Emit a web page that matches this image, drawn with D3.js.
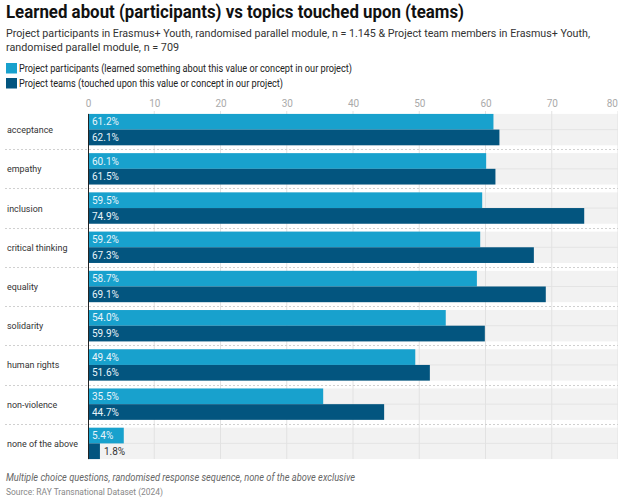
<!DOCTYPE html>
<html>
<head>
<meta charset="utf-8">
<script src="https://cdn.jsdelivr.net/npm/d3@7"></script>
<style>
  body { margin: 0; background: #fff; font-family: Roboto, "Noto Sans", sans-serif; }
  svg text { font-family: Roboto, "Noto Sans", sans-serif; }
</style>
</head>
<body>
<svg id="chart" width="618" height="501"></svg>
<script>
const categories = ["acceptance", "empathy", "inclusion", "critical thinking", "equality",
  "solidarity", "human rights", "non-violence", "none of the above"];
const participants = [61.2, 60.1, 59.5, 59.2, 58.7, 54.0, 49.4, 35.5, 5.4];
const teams = [62.1, 61.5, 74.9, 67.3, 69.1, 59.9, 51.6, 44.7, 1.8];
const seriesNames = [
  "Project participants (learned something about this value or concept in our project)",
  "Project teams (touched upon this value or concept in our project)"
];
const xTicks = [0, 10, 20, 30, 40, 50, 60, 70, 80];
const colors = ["#18a1cd", "#03557f"];

const svg = d3.select("#chart");

// Squeeze a text to a given width (narrow typeface look)
function fit(sel, width) {
  sel.attr("textLength", width).attr("lengthAdjust", "spacingAndGlyphs");
  return sel;
}

// Title, subtitle
fit(svg.append("text").attr("x", 6).attr("y", 18)
  .attr("font-size", 18.5).attr("font-weight", 700).attr("fill", "#111")
  .text("Learned about (participants) vs topics touched upon (teams)"), 458);
fit(svg.append("text").attr("x", 6).attr("y", 37).attr("font-size", 10.9).attr("fill", "#333")
  .text("Project participants in Erasmus+ Youth, randomised parallel module, n = 1.145 & Project team members in Erasmus+ Youth,"), 584);
fit(svg.append("text").attr("x", 6).attr("y", 51).attr("font-size", 10.9).attr("fill", "#333")
  .text("randomised parallel module, n = 709"), 173);

// Legend
const legendWidths = [333, 264];
seriesNames.forEach((name, i) => {
  const g = svg.append("g").attr("transform", `translate(6,${63 + i * 15})`);
  g.append("rect").attr("width", 11).attr("height", 10.5).attr("fill", colors[i]);
  fit(g.append("text").attr("x", 13).attr("y", 9).attr("font-size", 10).attr("fill", "#222").text(name),
    legendWidths[i]);
});

// Scales
const x = d3.scaleLinear().domain([0, 80]).range([88, 618]);
const y = d3.scaleBand().domain(categories).range([110, 463]).paddingInner(0.2).paddingOuter(0.1);
const y2 = d3.scaleBand().domain([0, 1]).range([0, y.bandwidth()]);

// Group background bands
svg.append("g").selectAll("rect").data(categories).join("rect")
  .attr("x", x(0)).attr("y", d => y(d)).attr("width", x(80) - x(0)).attr("height", y.bandwidth())
  .attr("fill", "#f2f2f2");
svg.append("g").selectAll("line").data(categories).join("line")
  .attr("x1", x(0)).attr("x2", x(80))
  .attr("y1", d => y(d) + y.bandwidth() / 2).attr("y2", d => y(d) + y.bandwidth() / 2)
  .attr("stroke", "#e4e4e4").attr("stroke-width", 1);

// Vertical gridlines
svg.append("g").selectAll("line").data(xTicks.slice(1)).join("line")
  .attr("x1", d => x(d)).attr("x2", d => x(d)).attr("y1", 111).attr("y2", 459)
  .attr("stroke", "#e2e2e2").attr("stroke-width", 1);

// Dashed separators between groups
const step = y.step();
svg.append("g").selectAll("line").data(categories.slice(1)).join("line")
  .attr("x1", 5).attr("x2", 618)
  .attr("y1", d => Math.round(y(d) - (step - y.bandwidth()) / 2) + 0.5)
  .attr("y2", d => Math.round(y(d) - (step - y.bandwidth()) / 2) + 0.5)
  .attr("stroke", "#d0d0d0").attr("stroke-dasharray", "2,2");

// Top axis
const axis = d3.axisTop(x).tickValues(xTicks).tickSize(0).tickPadding(0);
const ax = svg.append("g").attr("transform", "translate(0,107)").call(axis);
ax.select(".domain").remove();
ax.selectAll("text").attr("font-size", 10).attr("fill", "#aaa")
  .attr("text-anchor", d => d === 80 ? "end" : "middle")
  .attr("dx", d => d === 80 ? -0.5 : 0);

// Bars
const series = [participants, teams];
series.forEach((vals, si) => {
  const g = svg.append("g");
  g.selectAll("rect").data(categories).join("rect")
    .attr("x", x(0)).attr("y", (d) => y(d) + y2(si))
    .attr("width", (d, i) => x(vals[i]) - x(0)).attr("height", y2.bandwidth())
    .attr("fill", colors[si]);
  g.selectAll("text").data(categories).join("text")
    .attr("x", (d, i) => (x(vals[i]) - x(0) < 32 && si === 1) ? x(vals[i]) + 4 : x(0) + 4)
    .attr("y", d => y(d) + y2(si) + y2.bandwidth() / 2 + 3.6)
    .attr("font-size", 10)
    .attr("fill", (d, i) => (x(vals[i]) - x(0) < 32 && si === 1) ? "#333" : "#e8f4fa")
    .text((d, i) => vals[i].toFixed(1) + "%");
});

// Axis baseline
svg.append("line").attr("x1", x(0) + 0.5).attr("x2", x(0) + 0.5)
  .attr("y1", y(categories[0])).attr("y2", y(categories[categories.length - 1]) + y.bandwidth())
  .attr("stroke", "#222").attr("stroke-width", 1);

// Category labels
svg.append("g").selectAll("text").data(categories).join("text")
  .attr("x", 7).attr("y", d => y(d) + y.bandwidth() / 2 + 3.5)
  .attr("font-size", 9.6).attr("fill", "#333").text(d => d)
  .each(function () {
    const t = d3.select(this);
    t.attr("textLength", this.getComputedTextLength() * 0.93).attr("lengthAdjust", "spacingAndGlyphs");
  });

// Footer
fit(svg.append("text").attr("x", 6).attr("y", 481).attr("font-size", 10)
  .attr("font-style", "italic").attr("fill", "#666")
  .text("Multiple choice questions, randomised response sequence, none of the above exclusive"), 349);
fit(svg.append("text").attr("x", 6).attr("y", 495).attr("font-size", 9.2).attr("fill", "#888")
  .text("Source: RAY Transnational Dataset (2024)"), 157);
</script>
</body>
</html>
